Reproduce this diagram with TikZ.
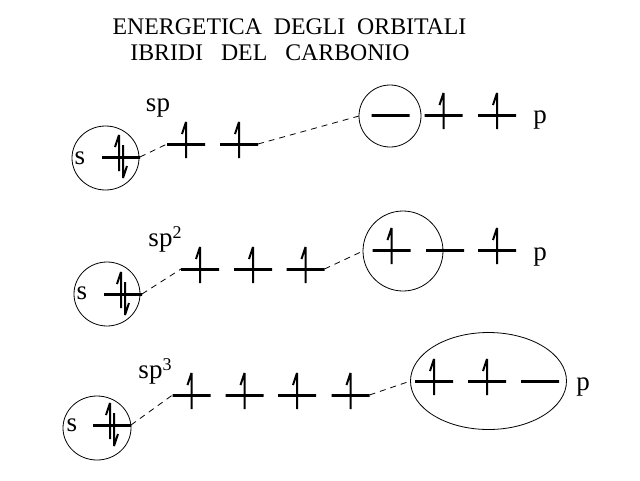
\documentclass[tikz,border=0pt]{standalone}
\usepackage{fontspec}
\setmainfont{Liberation Serif}
\usetikzlibrary{shapes.geometric}
\tikzset{
  level/.style={draw, line width=3pt, minimum width=38pt, minimum height=0pt, inner sep=0pt, outer sep=0pt, shape=rectangle},
  orbit/.style={draw, ellipse, line width=.8pt, inner sep=0pt, outer sep=0pt},
  link/.style={line width=.8pt, dash pattern=on 6pt off 5pt},
  spin/.style={line width=2pt, line join=bevel},
  tag/.style={font=\fontsize{27}{27}\selectfont, inner sep=0pt, anchor=base},
  head/.style={font=\fontsize{23.8}{24}\selectfont, inner sep=0pt}
}
% half arrows, placed from the node of a level
\newcommand{\spinup}[2][0]{\draw[spin] ([shift={(#1,14)}]#2.center) -- ++(0,-36) -- ++(-4,12);}
\newcommand{\spindown}[2][0]{\draw[spin] ([shift={(#1,-12)}]#2.center) -- ++(0,33) -- ++(4,-12);}
\newcommand{\supnum}[1]{\raisebox{8pt}{\fontsize{18}{18}\selectfont #1}}
\begin{document}
\begin{tikzpicture}[x=1pt,y=-1pt]
  \useasboundingbox (0,0) rectangle (640,480);

  \node[head] (title1) at (289.5,27) {ENERGETICA\ \ DEGLI\ \ ORBITALI};
  \node[head] (title2) at (270,53) {IBRIDI\hspace{18pt}DEL\hspace{18pt}CARBONIO};

  % sp
  \node[orbit, minimum width=67pt, minimum height=64pt] (so1) at (105.5,158) {};
  \node[tag] (s1) at (80,164) {s};
  \node[level] (s1l) at (121,157) {};
  \node[tag] (sp1) at (158,111) {sp};
  \node[level] (h11) at (186,144) {};
  \node[level] (h12) at (239,144) {};
  \node[orbit, minimum width=62pt, minimum height=62pt] (po1) at (390,116) {};
  \node[level] (p11) at (390.5,115) {};
  \node[level] (p12) at (443.5,115) {};
  \node[level] (p13) at (497,115) {};
  \node[tag] (p1) at (540,123) {p};
  \spinup[-2]{s1l} \spindown[2]{s1l}
  \spinup{h11} \spinup{h12}
  \spinup{p12} \spinup{p13}
  \draw[link] (s1l.east) -- (h11.west);
  \draw[link] (h12.east) -- (po1.west);

  % sp2
  \node[orbit, minimum width=66pt, minimum height=64pt] (so2) at (107,294) {};
  \node[tag] (s2) at (82,299) {s};
  \node[level] (s2l) at (123,294) {};
  \node[tag] (sp2) at (165,246) {sp\supnum{2}};
  \node[level] (h21) at (200,269) {};
  \node[level] (h22) at (253,269) {};
  \node[level] (h23) at (305.5,269) {};
  \node[orbit, minimum width=80pt, minimum height=80pt] (po2) at (403,251) {};
  \node[level] (p21) at (391.5,250) {};
  \node[level] (p22) at (445,250) {};
  \node[level] (p23) at (497,250) {};
  \node[tag] (p2) at (540,260) {p};
  \spinup[-2]{s2l} \spindown[2]{s2l}
  \spinup{h21} \spinup{h22} \spinup{h23}
  \spinup{p21} \spinup{p23}
  \draw[link] (s2l.east) -- (h21.west);
  \draw[link] (h23.east) -- (po2.west);

  % sp3
  \node[orbit, minimum width=68pt, minimum height=64pt] (so3) at (97,428) {};
  \node[tag] (s3) at (72,431) {s};
  \node[level] (s3l) at (112,425) {};
  \node[tag] (sp3) at (155,378) {sp\supnum{3}};
  \node[level] (h31) at (191.5,395) {};
  \node[level] (h32) at (244.5,395) {};
  \node[level] (h33) at (297,395) {};
  \node[level] (h34) at (350.5,395) {};
  \node[orbit, minimum width=156pt, minimum height=97pt] (po3) at (488.5,381) {};
  \node[level] (p31) at (434,381) {};
  \node[level] (p32) at (487,381) {};
  \node[level] (p33) at (540,381) {};
  \node[tag] (p3) at (583,390) {p};
  \spinup[-2]{s3l} \spindown[2]{s3l}
  \spinup{h31} \spinup{h32} \spinup{h33} \spinup{h34}
  \spinup{p31} \spinup{p32}
  \draw[link] (s3l.east) -- (h31.west);
  \draw[link] (h34.east) -- (po3.west);
\end{tikzpicture}
\end{document}
